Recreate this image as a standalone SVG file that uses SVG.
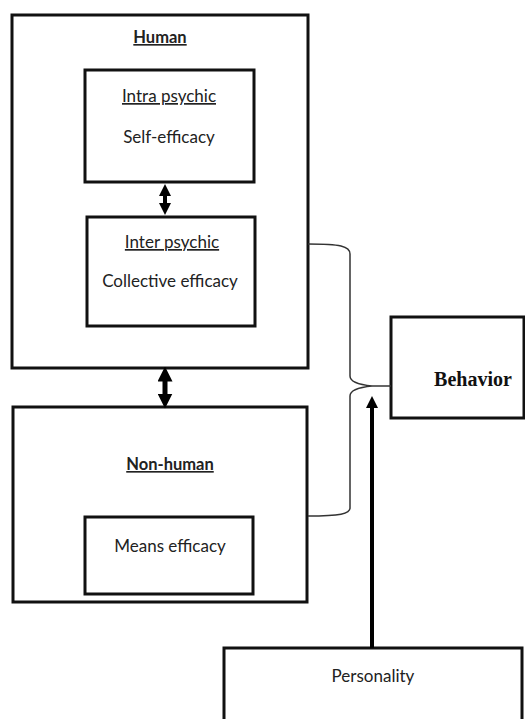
<svg xmlns="http://www.w3.org/2000/svg" width="525" height="719" viewBox="0 0 525 719">
<style>
.box{fill:#fff;stroke:#111;stroke-width:3}
.t{font-family:Lato,"Open Sans","Liberation Sans",sans-serif;font-size:17px;fill:#222;text-anchor:middle}
.u{text-decoration:underline}
.b{font-weight:bold;font-size:16.5px}
.brace{fill:none;stroke:#333;stroke-width:1.5}
</style>
<defs>
<marker id="ah" viewBox="0 0 10 10" refX="5" refY="5" markerWidth="3" markerHeight="3" orient="auto-start-reverse">
<path d="M0,0 L10,5 L0,10 z" fill="#000"/>
</marker>
</defs>
<rect width="525" height="719" fill="#fff"/>
<g id="human">
<rect class="box" x="12" y="15" width="296" height="353"/>
<text class="t u b" x="160" y="43">Human</text>
</g>
<g id="intra">
<rect class="box" x="85" y="70" width="169" height="112"/>
<text class="t u" x="169" y="102">Intra psychic</text>
<text class="t" x="169" y="143">Self-efficacy</text>
</g>
<g id="inter">
<rect class="box" x="87" y="217" width="168" height="109"/>
<text class="t u" x="172" y="248">Inter psychic</text>
<text class="t" x="170" y="287">Collective efficacy</text>
</g>
<g id="nonhuman">
<rect class="box" x="13" y="407" width="294" height="195"/>
<text class="t u b" x="170" y="470">Non-human</text>
</g>
<g id="means">
<rect class="box" x="85" y="517" width="168" height="77"/>
<text class="t" x="170" y="552">Means efficacy</text>
</g>
<g id="behavior">
<rect class="box" x="391" y="317" width="133" height="101"/>
<text x="473" y="386" font-family="'Liberation Serif',serif" font-weight="bold" font-size="20" fill="#111" text-anchor="middle">Behavior</text>
</g>
<g id="personality">
<rect class="box" x="224" y="648" width="298" height="80"/>
<text class="t" x="373" y="682">Personality</text>
</g>
<g id="connectors">
<line x1="165" y1="190" x2="165" y2="209" stroke="#000" stroke-width="4" marker-start="url(#ah)" marker-end="url(#ah)"/>
<line x1="165" y1="374" x2="165" y2="401" stroke="#000" stroke-width="5" marker-start="url(#ah)" marker-end="url(#ah)"/>
<path class="brace" d="M308,244 C340,244 350,246 350,254 L350,376 C350,383 362,385 372,386 C362,387 350,389 350,396 L350,508 C350,514 340,516 308,516"/>
<line class="brace" x1="372" y1="386" x2="391" y2="386"/>
<line x1="372" y1="648" x2="372" y2="402" stroke="#000" stroke-width="4" marker-end="url(#ah)"/>
</g>
</svg>
